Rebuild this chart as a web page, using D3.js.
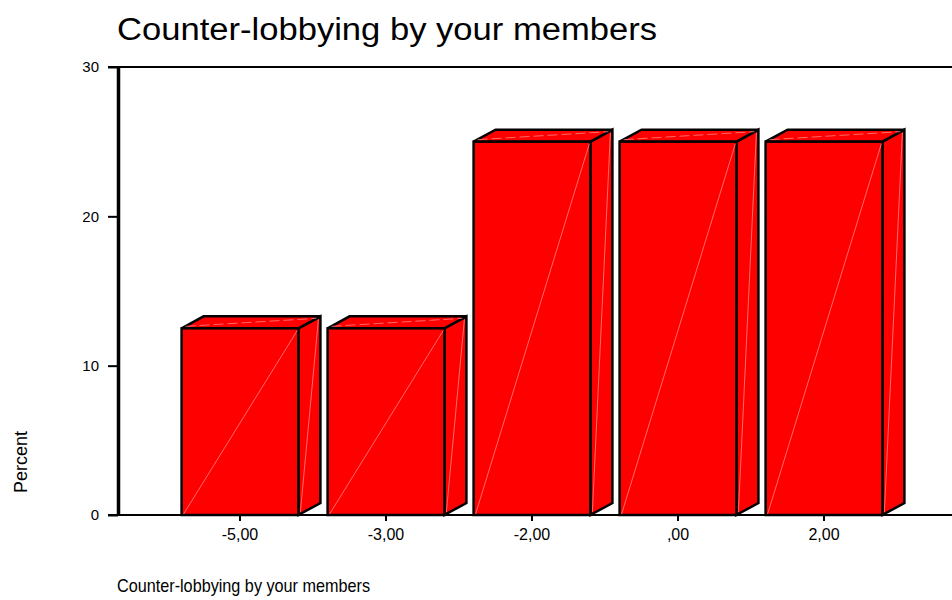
<!DOCTYPE html>
<html><head><meta charset="utf-8">
<script src="https://cdn.jsdelivr.net/npm/d3@7"></script>
<style>body{margin:0;background:#fff}svg{display:block}</style>
</head><body>
<svg id="chart" width="952" height="600"></svg>
<script>
const categories = ["-5,00", "-3,00", "-2,00", ",00", "2,00"];
const percents = [12.5, 12.5, 25, 25, 25];
const yTicks = [0, 10, 20, 30];
const title = "Counter-lobbying by your members";
const xLabel = "Counter-lobbying by your members";
const yLabel = "Percent";

const svg = d3.select("#chart");
const font = "Arial, 'Liberation Sans', sans-serif";
const x = d3.scaleBand().domain(categories).range([167, 897]).paddingInner(0.2).paddingOuter(0.1);
const y = d3.scaleLinear().domain([0, 30]).range([515, 67]);
const dx = 22, dy = 12;

// frame lines
svg.append("line").attr("x1", 108).attr("x2", 952).attr("y1", y(30)).attr("y2", y(30)).attr("stroke", "#000").attr("stroke-width", 2);
svg.append("line").attr("x1", 108).attr("x2", 952).attr("y1", y(0)).attr("y2", y(0)).attr("stroke", "#000").attr("stroke-width", 2);

// bars
const g = svg.append("g");
categories.forEach((c, i) => {
  const x0 = x(c), x1 = x0 + x.bandwidth();
  const yb = y(0), yt = y(percents[i]);
  const bar = g.append("g");
  bar.append("polygon")
    .attr("points", [[x1, yb], [x1 + dx, yb - dy], [x1 + dx, yt - dy], [x1, yt]].join(" "))
    .attr("fill", "#ff0000").attr("stroke", "#000").attr("stroke-width", 2.5);
  bar.append("polygon")
    .attr("points", [[x0, yt], [x0 + dx, yt - dy], [x1 + dx, yt - dy], [x1, yt]].join(" "))
    .attr("fill", "#ff0000").attr("stroke", "#000").attr("stroke-width", 2.5);
  bar.append("rect").attr("x", x0).attr("y", yt).attr("width", x.bandwidth()).attr("height", yb - yt)
    .attr("fill", "#ff0000").attr("stroke", "#000").attr("stroke-width", 2.5);
  bar.append("line").attr("x1", x0 + 2).attr("y1", yb - 1).attr("x2", x1 - 1).attr("y2", yt + 2)
    .attr("stroke", "#ff9a9a").attr("stroke-width", 0.7);
  bar.append("line").attr("x1", x1 + 2).attr("y1", yb - 3).attr("x2", x1 + dx - 2).attr("y2", yt - dy + 3)
    .attr("stroke", "#ff9a9a").attr("stroke-width", 0.7);
  bar.append("line").attr("x1", x0 + 4).attr("y1", yt - 2).attr("x2", x1 + dx - 4).attr("y2", yt - dy + 2)
    .attr("stroke", "#ff9a9a").attr("stroke-width", 0.7).attr("stroke-dasharray", "10,4");
});

// y axis
const yAxis = d3.axisLeft(y).tickValues(yTicks).tickSize(10).tickSizeOuter(0).tickPadding(9).tickFormat(d3.format("d"));
const ya = svg.append("g").attr("transform", "translate(118,0)").call(yAxis);
ya.select(".domain").attr("stroke-width", 3.5);
ya.selectAll(".tick line").attr("stroke-width", 2);
ya.selectAll("text").attr("font-family", font).attr("font-size", 15).attr("fill", "#000");

// x axis
const xAxis = d3.axisBottom(x).tickSize(6).tickSizeOuter(0).tickPadding(8);
const xa = svg.append("g").attr("transform", `translate(0,${y(0)})`).call(xAxis);
xa.select(".domain").remove();
xa.selectAll(".tick line").attr("stroke-width", 2);
xa.selectAll("text").attr("font-family", font).attr("font-size", 16).attr("fill", "#000");

// texts
svg.append("text").attr("x", 117).attr("y", 40).text(title)
  .attr("font-family", font).attr("font-size", 31).attr("fill", "#000")
  .attr("textLength", 540).attr("lengthAdjust", "spacingAndGlyphs");
svg.append("text").attr("x", 117).attr("y", 592).text(xLabel)
  .attr("font-family", font).attr("font-size", 18.5).attr("fill", "#000")
  .attr("textLength", 253).attr("lengthAdjust", "spacingAndGlyphs");
svg.append("text").attr("transform", "translate(27,462) rotate(-90)").attr("text-anchor", "middle").text(yLabel)
  .attr("font-family", font).attr("font-size", 18).attr("fill", "#000");
</script>
</body></html>
